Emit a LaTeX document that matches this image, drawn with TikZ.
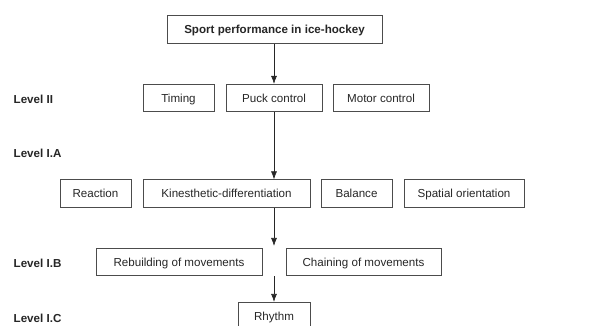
\documentclass[tikz,border=0pt]{standalone}
\usepackage{fontspec}
\setmainfont{Liberation Sans}
\usetikzlibrary{arrows.meta, positioning}

\begin{document}
\begin{tikzpicture}[x=1pt, y=-1pt, line width=0.7pt, every node/.style={font=\fontsize{11.6}{13}\selectfont, text=black!85}]
				\tikzset{
					box/.style={draw=black!70, minimum height=27.5pt, inner sep=0pt, text height=8.3pt, text depth=0pt},
					lvl/.style={anchor=west, font=\fontsize{11.6}{13}\selectfont\bfseries},
					arr/.style={-{Latex[length=8pt,width=6pt]}, black!85}
				}
				\useasboundingbox (0,0) rectangle (611,326);

				\node[box, minimum width=215pt, font=\fontsize{11.6}{13}\selectfont\bfseries] (sport) at (274.5, 29.5) {Sport performance in ice-hockey};

				\node[box, minimum width=71pt] (timing) at (178.5, 98) {Timing};
				\node[box, minimum width=96pt] (puck) at (274, 98) {Puck control};
				\node[box, minimum width=96pt] (motor) at (381, 98) {Motor control};

				\node[box, minimum width=71pt] (reaction) at (95.5, 193.5) {Reaction};
				\node[box, minimum width=167pt] (kines) at (226.5, 193.5) {Kinesthetic-differentiation};
				\node[box, minimum width=71pt] (balance) at (356.5, 193.5) {Balance};
				\node[box, minimum width=120pt] (spatial) at (464, 193.5) {Spatial orientation};

				\node[box, minimum width=166pt] (rebuild) at (179, 262) {Rebuilding of movements};
				\node[box, minimum width=155pt] (chain) at (363.5, 262) {Chaining of movements};

				\node[box, minimum width=72pt] (rhythm) at (274, 316) {Rhythm};

				\node[lvl] (lvlII) at (10, 99) {Level II};
				\node[lvl] (lvlIA) at (10, 153) {Level I.A};
				\node[lvl] (lvlIB) at (10, 263) {Level I.B};
				\node[lvl] (lvlIC) at (10, 318) {Level I.C};

				\coordinate (gapin) at (274, 246);
				\coordinate (gapout) at (274, 276);

				\draw[arr] (sport.south -| puck.north) -- (puck.north);
				\draw[arr] (puck.south) -- (puck.south |- kines.north);
				\draw[arr] (puck.south |- kines.south) -- (gapin);
				\draw[arr] (gapout) -- (rhythm.north);

			\end{tikzpicture}
\end{document}
